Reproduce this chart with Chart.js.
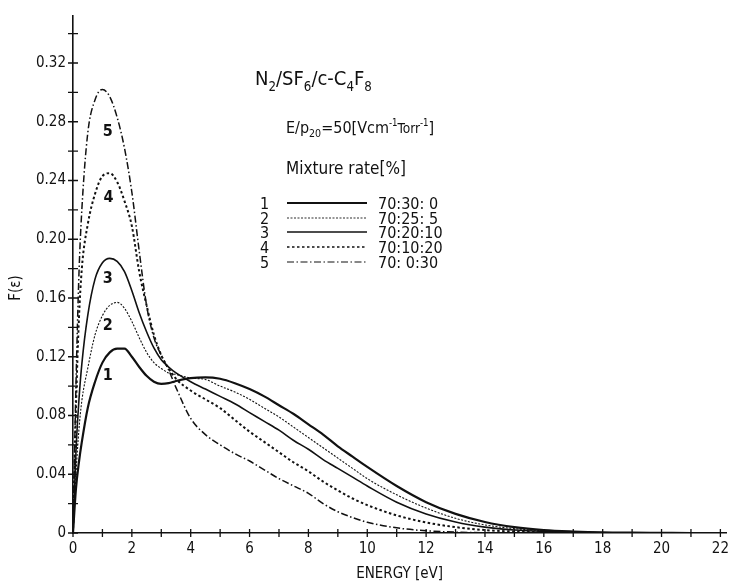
<!DOCTYPE html>
<html>
<head>
<meta charset="utf-8">
<title>Electron energy distribution</title>
<script src="https://cdn.jsdelivr.net/npm/chart.js@4.4.1/dist/chart.umd.min.js"></script>
<style>
  html, body { margin: 0; padding: 0; background: #fff; }
  #wrap { width: 736px; height: 585px; }
</style>
</head>
<body>
<div id="wrap"><canvas id="edf-chart" width="736" height="585"></canvas></div>
<script>
// electron energy grid [eV]
const energy = [0, 0.1, 0.2, 0.3, 0.5, 0.75, 1, 1.25, 1.5, 1.75,
  2, 2.25, 2.5, 2.75, 3, 3.25, 3.5, 4, 4.5, 5, 5.5, 6, 6.5, 7, 7.5,
  8, 8.5, 9, 9.5, 10, 11, 12, 13, 14, 15, 16, 17, 18, 19, 20, 21, 22];

// F(e) for each N2:SF6:c-C4F8 mixture
const mix1 = [0, 0.03, 0.048, 0.062, 0.085, 0.103, 0.116, 0.123, 0.1255, 0.1255,
  0.12, 0.113, 0.107, 0.103, 0.1015, 0.102, 0.1035, 0.1055, 0.106, 0.105, 0.102, 0.098, 0.093, 0.087, 0.081,
  0.074, 0.067, 0.059, 0.052, 0.045, 0.032, 0.021, 0.013, 0.0075, 0.004, 0.002, 0.001, 0.0004, 0.0002, 0.0001, 0, 0];
const mix2 = [0, 0.04, 0.07, 0.09, 0.112, 0.135, 0.148, 0.155, 0.157, 0.153,
  0.144, 0.133, 0.123, 0.116, 0.112, 0.109, 0.108, 0.1055, 0.1045, 0.100, 0.096, 0.091, 0.085, 0.079, 0.072,
  0.065, 0.058, 0.051, 0.044, 0.037, 0.026, 0.017, 0.010, 0.0055, 0.003, 0.0015, 0.0007, 0.0003, 0.0001, 0, 0, 0];
const mix3 = [0, 0.055, 0.09, 0.115, 0.148, 0.173, 0.184, 0.187, 0.185, 0.178,
  0.165, 0.15, 0.137, 0.126, 0.118, 0.113, 0.109, 0.103, 0.098, 0.093, 0.088, 0.082, 0.076, 0.070, 0.063,
  0.057, 0.050, 0.044, 0.038, 0.032, 0.021, 0.013, 0.0075, 0.004, 0.002, 0.001, 0.0005, 0.0002, 0, 0, 0, 0];
const mix4 = [0, 0.085, 0.145, 0.18, 0.21, 0.231, 0.243, 0.245, 0.239, 0.226,
  0.209, 0.178, 0.155, 0.135, 0.121, 0.112, 0.105, 0.097, 0.091, 0.085, 0.077, 0.069, 0.062, 0.055, 0.048,
  0.042, 0.035, 0.029, 0.0235, 0.019, 0.012, 0.0072, 0.004, 0.002, 0.001, 0.0005, 0.0002, 0, 0, 0, 0, 0];
const mix5 = [0, 0.10, 0.175, 0.22, 0.272, 0.295, 0.302, 0.297, 0.283, 0.262,
  0.232, 0.192, 0.155, 0.133, 0.121, 0.111, 0.099, 0.078, 0.067, 0.060, 0.054, 0.049, 0.043, 0.037, 0.032,
  0.027, 0.020, 0.0145, 0.0105, 0.0073, 0.0035, 0.0015, 0.0006, 0.0002, 0.0001, 0, 0, 0, 0, 0, 0, 0];

const curveNames = ['1', '2', '3', '4', '5'];
const mixtureRates = ['70:30: 0', '70:25: 5', '70:20:10', '70:10:20', '70: 0:30'];

// where the curve numbers sit, in data units (energy, F)
const curveTagAt = [[1.18, 0.107], [1.18, 0.141], [1.18, 0.173], [1.21, 0.228], [1.18, 0.273]];

const series = [mix1, mix2, mix3, mix4, mix5];

const lineStyles = [
  { width: 2.2, dash: [] },
  { width: 1.1, dash: [2, 1.5] },
  { width: 1.6, dash: [] },
  { width: 2.0, dash: [2.5, 2.5] },
  { width: 1.5, dash: [7, 2.5, 1.5, 2.5] }
];

const FONT = '"Liberation Sans Narrow", "DejaVu Sans Condensed", "Liberation Sans", Arial, sans-serif';
const INK = '#111';

// text with sub/superscript pieces, y is the baseline
function drawRich(ctx, x, y, parts, size) {
  let cx = x;
  parts.forEach(([txt, kind]) => {
    let s = size;
    let dy = 0;
    if (kind === 'sub') { s = size * 0.66; dy = size * 0.28; }
    if (kind === 'sup') { s = size * 0.6; dy = -size * 0.42; }
    if (kind === 'small') { s = size * 0.85; }
    ctx.font = s + 'px ' + FONT;
    ctx.fillText(txt, cx, y + dy);
    cx += ctx.measureText(txt).width;
  });
}

const decorPlugin = {
  id: 'decor',
  afterDraw(chart) {
    const ctx = chart.ctx;
    const xs = chart.scales.x;
    const ys = chart.scales.y;
    const x0 = xs.getPixelForValue(0);
    const y0 = ys.getPixelForValue(0);

    ctx.save();
    ctx.strokeStyle = INK;
    ctx.fillStyle = INK;
    ctx.lineWidth = 1.3;

    // ticks crossing both axes
    ctx.beginPath();
    xs.ticks.forEach(t => {
      const px = xs.getPixelForValue(t.value);
      ctx.moveTo(px, y0 - 4);
      ctx.lineTo(px, y0 + 4);
    });
    ys.ticks.forEach(t => {
      const py = ys.getPixelForValue(t.value);
      ctx.moveTo(x0 - 5, py);
      ctx.lineTo(x0 + 5, py);
    });
    ctx.stroke();

    // y axis title
    ctx.save();
    ctx.translate(16, 288);
    ctx.rotate(-Math.PI / 2);
    ctx.textAlign = 'center';
    ctx.textBaseline = 'middle';
    ctx.font = '15px ' + FONT;
    ctx.fillText('F(\u03b5)', 0, 0);
    ctx.restore();

    // curve numbers
    ctx.textAlign = 'center';
    ctx.textBaseline = 'middle';
    ctx.font = 'bold 16px ' + FONT;
    curveTagAt.forEach(([e, f], i) => {
      ctx.fillText(curveNames[i], xs.getPixelForValue(e), ys.getPixelForValue(f));
    });

    // caption block
    ctx.textAlign = 'left';
    ctx.textBaseline = 'alphabetic';
    drawRich(ctx, 255, 85, [['N'], ['2', 'sub'], ['/SF'], ['6', 'sub'], ['/c-C'], ['4', 'sub'], ['F'], ['8', 'sub']], 20);
    drawRich(ctx, 286, 133, [['E/p'], ['20', 'sub'], ['=50[Vcm'], ['-1', 'sup'], ['Torr', 'small'], ['-1', 'sup'], [']']], 16);
    ctx.font = '17px ' + FONT;
    ctx.fillText('Mixture rate[%]', 286, 174);

    // legend rows
    const rowY = [203, 218, 232, 247, 262];
    ctx.font = '16px ' + FONT;
    rowY.forEach((ry, i) => {
      ctx.fillText(curveNames[i], 260, ry + 6);
      ctx.beginPath();
      ctx.lineWidth = lineStyles[i].width * 0.8;
      ctx.setLineDash(lineStyles[i].dash);
      ctx.moveTo(287, ry);
      ctx.lineTo(367, ry);
      ctx.stroke();
      ctx.setLineDash([]);
      ctx.fillText(mixtureRates[i], 378, ry + 6);
    });
    ctx.restore();
  }
};

const ctx = document.getElementById('edf-chart');
const chart = new Chart(ctx, {
  type: 'line',
  data: {
    datasets: series.map((vals, i) => ({
      label: curveNames[i],
      data: energy.map((e, j) => ({ x: e, y: vals[j] })),
      borderColor: INK,
      borderWidth: lineStyles[i].width,
      borderDash: lineStyles[i].dash,
      pointRadius: 0,
      cubicInterpolationMode: 'monotone',
      fill: false
    }))
  },
  options: {
    responsive: false,
    animation: false,
    layout: { padding: { top: 8, right: 3, left: 0, bottom: 0 } },
    plugins: {
      legend: { display: false },
      tooltip: { enabled: false }
    },
    scales: {
      x: {
        type: 'linear',
        min: 0,
        max: 22.2,
        afterFit: s => { s.height = 52; },
        border: { display: true, color: INK, width: 1.6 },
        grid: { display: false, drawTicks: false },
        ticks: {
          stepSize: 1,
          includeBounds: false,
          autoSkip: false,
          maxRotation: 0,
          padding: 7,
          color: INK,
          font: { family: FONT, size: 15 },
          callback: v => (v % 2 === 0 ? String(v) : '')
        },
        title: {
          display: true,
          text: 'ENERGY [eV]',
          color: INK,
          font: { family: FONT, size: 15 },
          padding: { top: 0, bottom: 2 }
        }
      },
      y: {
        type: 'linear',
        min: 0,
        max: 0.352,
        afterFit: s => { s.width = 73; },
        border: { display: true, color: INK, width: 1.6 },
        grid: { display: false, drawTicks: false },
        ticks: {
          stepSize: 0.02,
          includeBounds: false,
          autoSkip: false,
          padding: 7,
          color: INK,
          font: { family: FONT, size: 15 },
          callback: v => {
            const k = Math.round(v * 100);
            if (k % 4 !== 0 || k > 32) return '';
            return k === 0 ? '0' : (k / 100).toFixed(2);
          }
        }
      }
    }
  },
  plugins: [decorPlugin]
});
</script>
</body>
</html>
